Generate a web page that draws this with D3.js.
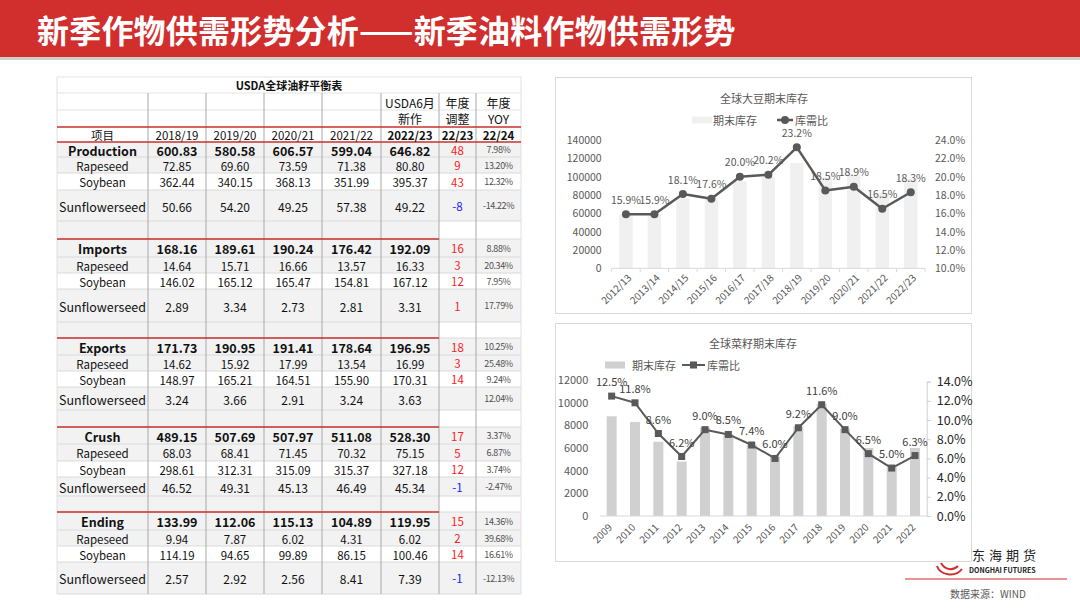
<!DOCTYPE html>
<html>
<head>
<meta charset="utf-8">
<script src="https://cdn.jsdelivr.net/npm/d3@7"></script>
<style>
  body { margin: 0; background: #fff; }
  svg { display: block; font-family: "Noto Sans CJK SC", "Noto Sans", sans-serif; }
</style>
</head>
<body>
<script>
// ---- data ----
const pageTitle = '新季作物供需形势分析——新季油料作物供需形势'
const tableTitle = 'USDA全球油籽平衡表'
const years = ['2018/19', '2019/20', '2020/21', '2021/22', '2022/23']
const items = ['Rapeseed', 'Soybean', 'Sunflowerseed']

const production = [[600.83, 580.58, 606.57, 599.04, 646.82], [72.85, 69.60, 73.59, 71.38, 80.80], [362.44, 340.15, 368.13, 351.99, 395.37], [50.66, 54.20, 49.25, 57.38, 49.22]]
const productionAdj = [48, 9, 43, -8]
const productionYoy = ['7.98%', '13.20%', '12.32%', '-14.22%']

const imports = [[168.16, 189.61, 190.24, 176.42, 192.09], [14.64, 15.71, 16.66, 13.57, 16.33], [146.02, 165.12, 165.47, 154.81, 167.12], [2.89, 3.34, 2.73, 2.81, 3.31]]
const importsAdj = [16, 3, 12, 1]
const importsYoy = ['8.88%', '20.34%', '7.95%', '17.79%']

const exports_ = [[171.73, 190.95, 191.41, 178.64, 196.95], [14.62, 15.92, 17.99, 13.54, 16.99], [148.97, 165.21, 164.51, 155.90, 170.31], [3.24, 3.66, 2.91, 3.24, 3.63]]
const exportsAdj = [18, 3, 14, null]
const exportsYoy = ['10.25%', '25.48%', '9.24%', '12.04%']

const crush = [[489.15, 507.69, 507.97, 511.08, 528.30], [68.03, 68.41, 71.45, 70.32, 75.15], [298.61, 312.31, 315.09, 315.37, 327.18], [46.52, 49.31, 45.13, 46.49, 45.34]]
const crushAdj = [17, 5, 12, -1]
const crushYoy = ['3.37%', '6.87%', '3.74%', '-2.47%']

const ending = [[133.99, 112.06, 115.13, 104.89, 119.95], [9.94, 7.87, 6.02, 4.31, 6.02], [114.19, 94.65, 99.89, 86.15, 100.46], [2.57, 2.92, 2.56, 8.41, 7.39]]
const endingAdj = [15, 2, 14, -1]
const endingYoy = ['14.36%', '39.68%', '16.61%', '-12.13%']

const soyYears = ['2012/13', '2013/14', '2014/15', '2015/16', '2016/17', '2017/18', '2018/19', '2019/20', '2020/21', '2021/22', '2022/23']
const soyStocks = [58500, 59000, 76500, 76500, 95000, 100000, 115000, 99000, 101500, 82000, 97500]
const soyRatio = [15.9, 15.9, 18.1, 17.6, 20.0, 20.2, 23.2, 18.5, 18.9, 16.5, 18.3]

const rapeYears = ['2009', '2010', '2011', '2012', '2013', '2014', '2015', '2016', '2017', '2018', '2019', '2020', '2021', '2022']
const rapeStocks = [8800, 8300, 6550, 4800, 7800, 7200, 6300, 5200, 7900, 9900, 7700, 6000, 4300, 6000]
const rapeRatio = [12.5, 11.8, 8.6, 6.2, 9.0, 8.5, 7.4, 6.0, 9.2, 11.6, 9.0, 6.5, 5.0, 6.3]

// ---- page ----
const W = 1080, H = 608
const svg = d3.select('body').append('svg').attr('width', W).attr('height', H)

svg.append('rect').attr('x', 0).attr('y', 0).attr('width', W).attr('height', 57).attr('fill', '#d12f2e')
svg.append('rect').attr('x', 0).attr('y', 57).attr('width', W).attr('height', 3).attr('fill', '#cfcfcf')
svg.append('text')
  .attr('x', 37).attr('y', 29)
  .attr('dominant-baseline', 'central')
  .attr('fill', '#fff').attr('font-size', 32).attr('font-weight', 700).attr('letter-spacing', 0.2)
  .text(pageTitle)

// ---- table ----
const sections = [
  { name: 'Production', vals: production, adj: productionAdj, yoy: productionYoy },
  { name: 'Imports', vals: imports, adj: importsAdj, yoy: importsYoy },
  { name: 'Exports', vals: exports_, adj: exportsAdj, yoy: exportsYoy },
  { name: 'Crush', vals: crush, adj: crushAdj, yoy: crushYoy },
  { name: 'Ending', vals: ending, adj: endingAdj, yoy: endingYoy }
]
const colX = [57, 148, 206, 264, 322, 381, 439, 476, 521]
const secHeights = [[15, 16, 17, 31, 18], [18, 16, 16, 33, 16], [17, 16, 16, 23, 17], [17, 17, 16, 19, 16], [18, 16, 16, 32]]
const cx = i => (colX[i] + colX[i + 1]) / 2
const fmt = d3.format('.2f')

const rows = []
let ry = 142
sections.forEach((s, si) => {
  const hs = secHeights[si]
  rows.push({ kind: 'head', label: s.name, vals: s.vals[0], adj: s.adj[0], yoy: s.yoy[0], y: ry, h: hs[0], top: si > 0 })
  ry += hs[0]
  items.forEach((it, k) => {
    rows.push({ kind: k === 1 ? 'soy' : 'sub', label: it, vals: s.vals[k + 1], adj: s.adj[k + 1], yoy: s.yoy[k + 1], y: ry, h: hs[k + 1] })
    ry += hs[k + 1]
  })
  if (hs[4]) {
    rows.push({ kind: 'empty', y: ry, h: hs[4] })
    ry += hs[4]
  }
})
const tableBottom = ry

const tg = svg.append('g')

// backgrounds
rows.forEach(r => {
  d3.range(8).forEach(c => {
    let fill = '#f2f2f2'
    if (r.kind === 'soy') fill = '#ffffff'
    if (r.kind === 'empty' && c >= 6) fill = '#ffffff'
    tg.append('rect').attr('x', colX[c]).attr('y', r.y).attr('width', colX[c + 1] - colX[c]).attr('height', r.h).attr('fill', fill)
  })
})

// horizontal grid
const hLines = [77, 93, 110]
hLines.forEach(y => tg.append('line').attr('x1', 57).attr('x2', 521).attr('y1', y).attr('y2', y).attr('stroke', '#e3e3e3'))
rows.forEach(r => {
  tg.append('line').attr('x1', 57).attr('x2', 521).attr('y1', r.y + r.h).attr('y2', r.y + r.h).attr('stroke', '#dadada')
})
// vertical grid
colX.forEach((x, i) => {
  const dark = i >= 1 && i <= 7
  tg.append('line').attr('x1', x).attr('x2', x)
    .attr('y1', i === 0 || i === 8 ? 77 : 93).attr('y2', tableBottom)
    .attr('stroke', dark ? '#a8a8a8' : '#e0e0e0')
})
// red rules
;[127, 142].forEach(y => tg.append('line').attr('x1', 57).attr('x2', 521).attr('y1', y).attr('y2', y).attr('stroke', '#c8302c').attr('stroke-width', 1.5))
rows.filter(r => r.top).forEach(r => {
  tg.append('line').attr('x1', 57).attr('x2', 439).attr('y1', r.y).attr('y2', r.y).attr('stroke', '#c8302c').attr('stroke-width', 1.5)
})

// header texts
const txt = (x, y, s, size, weight, color) => tg.append('text')
  .attr('x', x).attr('y', y).attr('text-anchor', 'middle').attr('dominant-baseline', 'central')
  .attr('font-size', size).attr('font-weight', weight || 400).attr('fill', color || '#111').text(s)

txt(289, 85, tableTitle, 11, 700)
txt(cx(5), 102, 'USDA6月', 12)
txt(cx(5), 118, '新作', 12)
txt(cx(6), 102, '年度', 12)
txt(cx(6), 118, '调整', 12)
txt(cx(7), 102, '年度', 12)
txt(cx(7), 118, 'YOY', 12)
txt(cx(0), 134.5, '项目', 11.5)
years.forEach((y, i) => txt(cx(i + 1), 134.5, y, 11.5, i === 4 ? 700 : 400))
txt(cx(6), 134.5, '22/23', 11.5, 700)
txt(cx(7), 134.5, '22/24', 11.5, 700)

rows.filter(r => r.kind !== 'empty').forEach(r => {
  const mid = r.y + r.h / 2
  const bold = r.kind === 'head'
  const size = bold ? 12.5 : (r.label === 'Sunflowerseed' ? 12.5 : 11.5)
  txt(cx(0), mid + 0.5, r.label, size, bold ? 700 : 400)
  r.vals.forEach((v, i) => txt(cx(i + 1), mid + 0.5, fmt(v), bold ? 12.5 : (r.label === 'Sunflowerseed' ? 12 : 11.5), bold ? 700 : 400))
  if (r.adj !== null) txt(cx(6), mid, r.adj, 11.5, 400, r.adj < 0 ? '#1a1aff' : '#ff2020')
  txt(cx(7), mid, r.yoy, 9, 400, '#505050').attr('letter-spacing', -0.4)
})

// ---- combo charts ----
function comboChart(o) {
  const g = svg.append('g')
  g.append('rect').attr('x', o.box[0]).attr('y', o.box[1]).attr('width', o.box[2]).attr('height', o.box[3])
    .attr('fill', '#fff').attr('stroke', '#d9d9d9')
  g.append('text').attr('x', o.titleX).attr('y', o.titleY).attr('text-anchor', 'middle').attr('dominant-baseline', 'central')
    .attr('font-size', 11).attr('fill', '#595959').text(o.title)

  const x = d3.scaleBand().domain(o.cats).range([o.x0, o.x1])
  const yL = d3.scaleLinear().domain(o.leftDomain).range([o.yBase, o.yTopL])
  const yR = d3.scaleLinear().domain(o.rightDomain).range([o.yBase, o.yTopR])
  const barW = x.bandwidth() * o.barFrac
  const mx = c => x(c) + x.bandwidth() / 2

  g.selectAll('rect.bar').data(o.stocks).join('rect').attr('class', 'bar')
    .attr('x', (d, i) => mx(o.cats[i]) - barW / 2)
    .attr('y', d => yL(d))
    .attr('width', barW)
    .attr('height', d => o.yBase - yL(d))
    .attr('fill', o.barColor)

  const la = g.append('g').attr('transform', `translate(${o.x0},0)`)
    .call(d3.axisLeft(yL).tickValues(d3.range(o.leftDomain[0], o.leftDomain[1] + 1, o.leftStep))
      .tickFormat(d3.format('d')).tickSize(0).tickPadding(o.padL))
  la.select('.domain').remove()
  la.attr('font-family', null).selectAll('text').attr('font-size', o.leftFont).attr('fill', '#595959')

  const ra = g.append('g').attr('transform', `translate(${o.x1},0)`)
    .call(d3.axisRight(yR).tickValues(d3.range(0, o.rightCount + 1).map(i => o.rightDomain[0] + i * o.rightStep))
      .tickFormat(d3.format('.1%')).tickSize(o.rightTick).tickPadding(o.padR))
  ra.attr('font-family', null)
  ra.select('.domain').attr('stroke', o.rightTick ? '#d0d0d0' : 'none')
  ra.selectAll('line').attr('stroke', '#d0d0d0')
  ra.selectAll('text').attr('font-size', o.rightFont).attr('fill', o.rightColor)

  g.append('line').attr('x1', o.x0).attr('x2', o.x1).attr('y1', o.yBase).attr('y2', o.yBase).attr('stroke', '#d9d9d9')
  if (o.xTicks) {
    d3.range(o.cats.length + 1).forEach(i => {
      const tx = o.x0 + i * x.step()
      g.append('line').attr('x1', tx).attr('x2', tx).attr('y1', o.yBase).attr('y2', o.yBase + 4).attr('stroke', '#d9d9d9')
    })
  }
  g.selectAll('text.xl').data(o.cats).join('text').attr('class', 'xl')
    .attr('transform', d => `translate(${mx(d) + o.xlDx},${o.yBase + o.xlDy}) rotate(-45)`)
    .attr('text-anchor', 'end').attr('dominant-baseline', 'central')
    .attr('font-size', 10).attr('fill', '#595959').text(d => d)

  const line = d3.line().x((d, i) => mx(o.cats[i])).y(d => yR(d / 100))
  g.append('path').datum(o.ratio).attr('d', line).attr('fill', 'none')
    .attr('stroke', '#595959').attr('stroke-width', o.lineW).attr('stroke-linejoin', 'round')
  if (o.marker === 'circle') {
    g.selectAll('circle.pt').data(o.ratio).join('circle').attr('class', 'pt')
      .attr('cx', (d, i) => mx(o.cats[i])).attr('cy', d => yR(d / 100)).attr('r', 4).attr('fill', '#595959')
  } else {
    g.selectAll('rect.pt').data(o.ratio).join('rect').attr('class', 'pt')
      .attr('x', (d, i) => mx(o.cats[i]) - 3.5).attr('y', d => yR(d / 100) - 3.5)
      .attr('width', 7).attr('height', 7).attr('fill', '#595959')
  }
  g.selectAll('text.dl').data(o.ratio).join('text').attr('class', 'dl')
    .attr('x', (d, i) => mx(o.cats[i])).attr('y', d => yR(d / 100) - 15)
    .attr('text-anchor', 'middle').attr('dominant-baseline', 'central')
    .attr('font-size', o.labelFont).attr('fill', o.labelColor).text(d => d.toFixed(1) + '%')

  // legend
  const lg = o.legend
  g.append('rect').attr('x', lg.x).attr('y', lg.y - 3.5).attr('width', 20).attr('height', 7).attr('fill', o.barColor)
  g.append('text').attr('x', lg.x + lg.t1).attr('y', lg.y).attr('dominant-baseline', 'central')
    .attr('font-size', 11).attr('fill', '#595959').text('期末库存')
  g.append('line').attr('x1', lg.x2).attr('x2', lg.x2 + lg.lw).attr('y1', lg.y).attr('y2', lg.y)
    .attr('stroke', '#595959').attr('stroke-width', o.lineW)
  if (o.marker === 'circle') {
    g.append('circle').attr('cx', lg.x2 + lg.lw / 2).attr('cy', lg.y).attr('r', 4).attr('fill', '#595959')
  } else {
    g.append('rect').attr('x', lg.x2 + lg.lw / 2 - 3.5).attr('y', lg.y - 3.5).attr('width', 7).attr('height', 7).attr('fill', '#595959')
  }
  g.append('text').attr('x', lg.x2 + lg.lw + 2).attr('y', lg.y).attr('dominant-baseline', 'central')
    .attr('font-size', 11).attr('fill', '#595959').text('库需比')
}

comboChart({
  box: [555.5, 77.5, 416, 236], title: '全球大豆期末库存', titleX: 764, titleY: 97.5,
  cats: soyYears, stocks: soyStocks, ratio: soyRatio,
  x0: 611.7, x1: 925, yBase: 268.3, yTopL: 140, yTopR: 140,
  leftDomain: [0, 140000], leftStep: 20000, rightDomain: [0.10, 0.24], rightStep: 0.02, rightCount: 7,
  padL: 10, padR: 10, rightTick: 0, leftFont: 10.5, rightFont: 10.5, rightColor: '#595959',
  barFrac: 0.47, barColor: '#f0f0f0', lineW: 2.5, marker: 'circle', xTicks: true,
  xlDx: 3, xlDy: 7, labelFont: 10.5, labelColor: '#595959',
  legend: { x: 692, y: 120, t1: 21, x2: 777, lw: 16 }
})

comboChart({
  box: [555.5, 323.5, 416, 238], title: '全球菜籽期末库存', titleX: 753, titleY: 342.5,
  cats: rapeYears, stocks: rapeStocks, ratio: rapeRatio,
  x0: 600, x1: 926.7, yBase: 516, yTopL: 380, yTopR: 381.7,
  leftDomain: [0, 12000], leftStep: 2000, rightDomain: [0, 0.14], rightStep: 0.02, rightCount: 7,
  padL: 11.7, padR: 6, rightTick: 4, leftFont: 11, rightFont: 12.5, rightColor: '#262626',
  barFrac: 0.43, barColor: '#d0d0d0', lineW: 2, marker: 'square', xTicks: false,
  xlDx: -2, xlDy: 9, labelFont: 11, labelColor: '#404040',
  legend: { x: 605, y: 365, t1: 27, x2: 682, lw: 23 }
})

// ---- logo and source ----
const lg = svg.append('g')
lg.append('path').attr('d', 'M937,566 C940,575 955,578 962,569 M941,563 C945,570 953,571 958,566')
  .attr('fill', 'none').attr('stroke', '#d12f2e').attr('stroke-width', 2)
lg.append('text').attr('x', 972).attr('y', 554).attr('dominant-baseline', 'central')
  .attr('font-size', 13).attr('letter-spacing', 4).attr('fill', '#222').text('东海期货')
lg.append('text').attr('x', 969).attr('y', 570).attr('dominant-baseline', 'central')
  .attr('font-size', 7).attr('font-weight', 700).attr('fill', '#222').text('DONGHAI FUTURES')
lg.append('line').attr('x1', 905).attr('x2', 1067).attr('y1', 579).attr('y2', 579).attr('stroke', '#e07070').attr('stroke-width', 1.5)
lg.append('text').attr('x', 950).attr('y', 593).attr('dominant-baseline', 'central')
  .attr('font-size', 10).attr('fill', '#595959').text('数据来源：WIND')
</script>
</body>
</html>
